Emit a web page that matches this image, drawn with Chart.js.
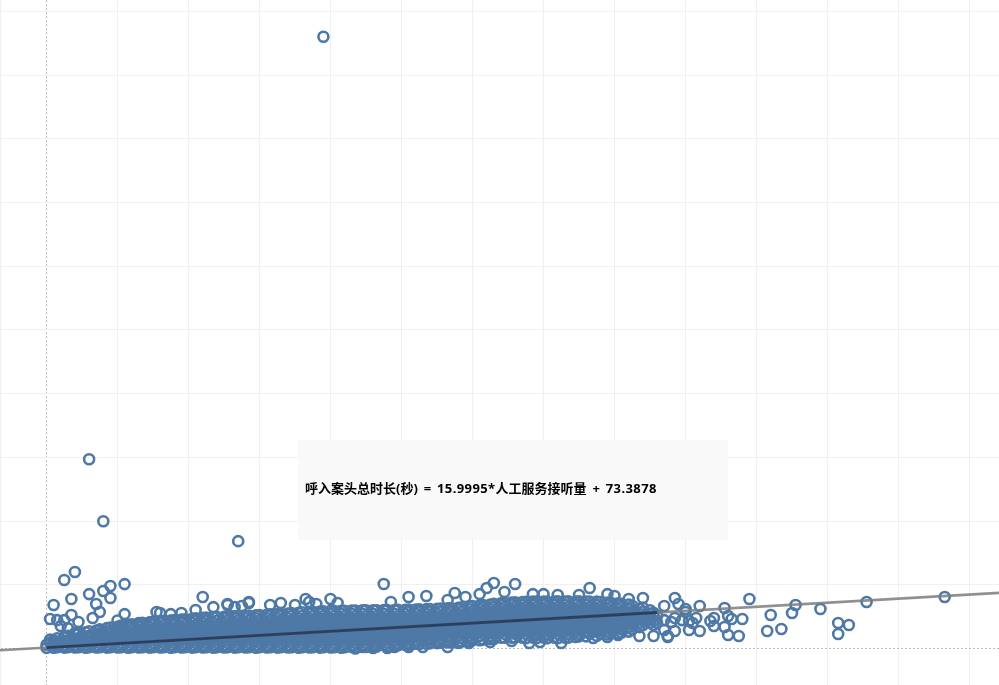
<!DOCTYPE html>
<html lang="zh">
<head>
  <meta charset="UTF-8">
  <title>呼入案头总时长</title>
  <script src="https://cdn.jsdelivr.net/npm/chart.js"></script>
  <style>
    body { margin: 0; background: #fff; }
    #wrap { position: relative; width: 999px; height: 685px; overflow: hidden; }
    #note {
      position: absolute; left: 298px; top: 440px; width: 430px; height: 100px;
      background: rgba(249, 249, 249, 0.93);
      font: bold 13px "Noto Sans", "Noto Sans CJK SC", sans-serif; word-spacing: 2.5px;
      line-height: 97px; padding-left: 7px; box-sizing: border-box; color: #000; white-space: pre;
    }
    #note span { letter-spacing: 0.4px; }
  </style>
</head>
<body>
  <div id="wrap">
    <canvas id="chart" width="999" height="685"></canvas>
    <div id="note">呼入案头总时长(秒) = <span>15.9995*</span>人工服务接听量 + <span>73.3878</span></div>
  </div>

  <script>
    const xTicks = [0, 20, 40, 60, 80, 100, 120, 140, 160, 180, 200, 220, 240, 260];
    const yTicks = [0, 5000, 10000, 15000, 20000, 25000, 30000, 35000, 40000, 45000, 50000];

    // regression shown in the note
    const trendSlope = 15.9995;
    const trendIntercept = 73.3878;
    const trendFullX = [-13.1, 268.3];
    const trendDataX = [0, 172];

    // loose points read one by one: [人工服务接听量, 呼入案头总时长(秒)]
    const outliersTop = [
      [78,48000],[12,14850],[16,9990],[54,8425],[5,5370],[8,6000],[2,3410],[7,3880],[12,4270],[16,4510],
      [18,4900],[22,5055],[18,3960],[14,3490],[15,2860],[7,2625],[1,2310],[3,2230],[5,2230],[4,1760],
      [6,1600],[9,2080],[13,2390],[22,2700],[20,2200]
    ];
    const outliersUpper = [
      [31,2870],[32,2790],[35,2700],[38,2790],[44,4040],[47,3250],[51,3410],[55,3330],[57,3570],[42,3020],
      [51,3490],[53,3250],[57,3645],[63,3410],[66,3570],[70,3410],[73,3880],[74,3645],[76,3490],[80,3880],
      [82,3570],[95,5060],[97,3645],[102,4040],[107,4115],[113,3800],[115,4350],[118,4040],[122,4270],[124,4745],
      [126,5135],[129,4430],[132,5060],[137,4270],[140,4270],[144,4195],[150,4195],[153,4745],[158,4270],[160,4115],
      [164,3880],[168,3960]
    ];
    const outliersLower = [
      [87,0],[92,40],[96,40],[98,120],[102,120],[106,120],[113,120],[116,430],[119,430],[125,510],
      [131,590],[136,430],[139,510],[145,430],[154,820],[158,900],[161,1060],[167,980],[171,980],[160,1770],
      [171,1840]
    ];
    const outliersRight = [
      [175,900],[174,1450],[174,3330],[177,3960],[178,3490],[180,3100],[180,2860],[184,3330],[191,3175],[198,3880],
      [204,2630],[211,3410],[210,2780],[218,3100],[231,3645],[253,4040],[223,2000],[226,1840],[223,1140],[203,1370],
      [207,1530],[196,2310],[195,980],[192,1060],[191,1690],[193,2310],[192,2550],[188,2390],[187,2160],[188,1770],
      [183,2390],[184,1370],[181,1450],[182,2000],[181,2160],[179,2230],[177,1370],[175,980],[177,2390],[176,2080],
      [174,2230]
    ];

    // dense band, estimated column by column: [x, [y, y, ...]]
    const cloudLeftTop = [
      [1,[450,700]],[2,[650]],[3,[800]],[5,[900]],[6,[1000]],[8,[1100,1200]],[9,[1150,1250]],[11,[1275]],[12,[1350]],
      [14,[1400]],[15,[1450,1500]],[17,[1600]],[18,[1650]],[20,[1700]],[21,[1800]],[23,[1850]],[24,[1900]],[26,[2000]],
      [27,[2020]],[29,[2050]],[30,[2100]],[32,[2150]],[33,[2160]],[35,[2180]]
    ];
    const cloudLeft = [
      [0,[50,300]],[2,[60,275,375]],[3,[100,450]],[5,[70,275,600]],[6,[100,450,650]],[8,[80,275,625,740]],[9,[100,450,820]],
      [11,[60,275,625,925]],[12,[100,450,800,1000]],[14,[80,275,625,975,1100]],[15,[100,450,800,1150,1200]],
      [17,[70,275,625,975,1300]],[18,[100,450,800,1150,1380]],[20,[80,275,625,975,1325,1475]],
      [21,[100,450,800,1150,1500,1560]],[23,[60,275,625,975,1325,1680]],[24,[100,450,800,1150,1500,1750]],
      [26,[80,275,625,975,1325,1675,1860]],[27,[100,450,800,1150,1500,1850,1920]],[29,[70,275,625,975,1325,1675,2000]],
      [30,[100,450,800,1150,1500,1850,2060]],[32,[80,275,625,975,1325,1675,2025,2120]],[33,[100,450,800,1150,1500,1850,2160]],
      [35,[60,275,625,975,1325,1675,2025,2200]],[36,[100,450,800,1150,1500,1850,2240]],[38,[80,275,625,975,1325,1675,2025,2270]],
      [39,[100,450,800,1150,1500,1850,2200,2300]],[41,[70,275,625,975,1325,1675,2025,2340]],[42,[100,450,800,1150,1500,1850,2200,2370]],
      [44,[80,275,625,975,1325,1675,2025,2400]],[45,[100,450,800,1150,1500,1850,2200,2420]],[47,[60,275,625,975,1325,1675,2025,2450]],
      [48,[100,450,800,1150,1500,1850,2200,2470]],[50,[80,275,625,975,1325,1675,2025,2375,2490]],[51,[100,450,800,1150,1500,1850,2200,2510]],
      [53,[70,275,625,975,1325,1675,2025,2375,2530]],[54,[100,450,800,1150,1500,1850,2200,2540]],[56,[80,275,625,975,1325,1675,2025,2375,2575]]
    ];
    const cloudMid = [
      [57,[100,450,800,1150,1500,1850,2200,2580]],[59,[60,275,625,975,1325,1675,2025,2375,2600]],[60,[100,450,800,1150,1500,1850,2200,2620]],
      [62,[80,275,625,975,1325,1675,2025,2375,2650]],[63,[100,450,800,1150,1500,1850,2200,2550,2680]],[65,[70,275,625,975,1325,1675,2025,2375,2700]],
      [66,[100,450,800,1150,1500,1850,2200,2550,2720]],[68,[80,275,625,975,1325,1675,2025,2375,2750]],[69,[100,450,800,1150,1500,1850,2200,2550,2780]],
      [71,[60,275,625,975,1325,1675,2025,2375,2800]],[72,[100,450,800,1150,1500,1850,2200,2550,2850]],[74,[80,275,625,975,1325,1675,2025,2375,2725,2870]],
      [75,[100,450,800,1150,1500,1850,2200,2550,2880]],[77,[70,275,625,975,1325,1675,2025,2375,2725,2900]],[78,[100,450,800,1150,1500,1850,2200,2550,2920]],
      [80,[80,275,625,975,1325,1675,2025,2375,2725,2950]],[81,[100,450,800,1150,1500,1850,2200,2550,2950]],[83,[60,275,625,975,1325,1675,2025,2375,2725,2960]],
      [84,[100,450,800,1150,1500,1850,2200,2550,2960]],[86,[120,275,625,975,1325,1675,2025,2375,2725,2980]],[87,[100,450,800,1150,1500,1850,2200,2550,2980]],
      [89,[120,275,625,975,1325,1675,2025,2375,2725,3000]],[90,[120,450,800,1150,1500,1850,2200,2550,3000]],[92,[150,275,625,975,1325,1675,2025,2375,2725,3000]],
      [93,[150,450,800,1150,1500,1850,2200,2550,3000]],[95,[275,625,975,1325,1675,2025,2375,2725,3010]],[96,[200,450,800,1150,1500,1850,2200,2550,3020]],
      [98,[275,625,975,1325,1675,2025,2375,2725,3020]],[99,[250,450,800,1150,1500,1850,2200,2550,3030]],[101,[300,625,975,1325,1675,2025,2375,2725,3040]],
      [102,[300,450,800,1150,1500,1850,2200,2550,2900,3050]],[104,[375,625,975,1325,1675,2025,2375,2725,3060]],[105,[350,800,1150,1500,1850,2200,2550,2900,3070]],
      [107,[375,625,975,1325,1675,2025,2375,2725,3090]],[108,[400,800,1150,1500,1850,2200,2550,2900,3100]],[110,[425,625,975,1325,1675,2025,2375,2725,3125]],
      [111,[450,800,1150,1500,1850,2200,2550,2900,3140]],[113,[475,625,975,1325,1675,2025,2375,2725,3075,3150]],[114,[500,800,1150,1500,1850,2200,2550,2900,3170]]
    ];
    const cloudRight = [
      [116,[525,975,1325,1675,2025,2375,2725,3075,3200]],[117,[550,800,1150,1500,1850,2200,2550,2900,3240]],[119,[600,975,1325,1675,2025,2375,2725,3075,3300]],
      [120,[650,800,1150,1500,1850,2200,2550,2900,3340]],[122,[650,975,1325,1675,2025,2375,2725,3075,3380]],[123,[700,1150,1500,1850,2200,2550,2900,3250,3400]],
      [125,[750,975,1325,1675,2025,2375,2725,3075,3450]],[126,[750,1150,1500,1850,2200,2550,2900,3250,3500]],[128,[850,1325,1675,2025,2375,2725,3075,3425,3550]],
      [129,[850,1150,1500,1850,2200,2550,2900,3250,3570]],[131,[850,1325,1675,2025,2375,2725,3075,3425,3600]],[132,[850,1150,1500,1850,2200,2550,2900,3250,3620]],
      [134,[850,1325,1675,2025,2375,2725,3075,3425,3650]],[135,[800,1150,1500,1850,2200,2550,2900,3250,3660]],[137,[850,1325,1675,2025,2375,2725,3075,3425,3675]],
      [138,[800,1150,1500,1850,2200,2550,2900,3250,3680]],[140,[850,1325,1675,2025,2375,2725,3075,3425,3675]],[141,[800,1150,1500,1850,2200,2550,2900,3250,3690]],
      [143,[850,1325,1675,2025,2375,2725,3075,3425,3675]],[144,[800,1150,1500,1850,2200,2550,2900,3250,3700]],[146,[850,1325,1675,2025,2375,2725,3075,3425,3675]],
      [147,[850,1150,1500,1850,2200,2550,2900,3250,3700]],[149,[900,1325,1675,2025,2375,2725,3075,3425,3675]],[150,[950,1150,1500,1850,2200,2550,2900,3250,3700]],
      [152,[950,1325,1675,2025,2375,2725,3075,3425,3675]],[153,[1150,1500,1850,2200,2550,2900,3250,3680]],[155,[1000,1325,1675,2025,2375,2725,3075,3425,3675]],
      [156,[1150,1500,1850,2200,2550,2900,3250,3650]],[158,[1100,1325,1675,2025,2375,2725,3075,3425,3600]],[159,[1200,1500,1850,2200,2550,2900,3250,3580]],
      [161,[1200,1675,2025,2375,2725,3075,3425,3550]],[162,[1250,1500,1850,2200,2550,2900,3250,3500]],[164,[1325,1675,2025,2375,2725,3075,3450]],
      [165,[1500,1850,2200,2550,2900,3350]],[167,[1675,2025,2375,2725,3125]],[168,[1850,2200,2550,2900,3200]],[170,[2025,2375,2725,3000]],
      [171,[2200,2550,2800]],[172,[2025,2575]]
    ];

    const toPoint = p => ({ x: p[0], y: p[1] });
    const cloudPoints = [...cloudLeftTop, ...cloudLeft, ...cloudMid, ...cloudRight]
      .flatMap(col => col[1].map(y => ({ x: col[0], y: y })));
    const loosePoints = [...outliersTop, ...outliersUpper, ...outliersLower, ...outliersRight].map(toPoint);
    const trendAt = x => ({ x: x, y: trendSlope * x + trendIntercept });

    const zeroOr = (ctx, zero, other) => (ctx.tick && ctx.tick.value === 0 ? zero : other);
    const axis = (min, max, values) => ({
      type: "linear",
      min: min,
      max: max,
      afterBuildTicks: scale => { scale.ticks = values.map(v => ({ value: v })); },
      ticks: { display: false },
      border: { display: true, color: "#f0f0f0", width: 1, dash: ctx => zeroOr(ctx, [2, 2], []) },
      grid: {
        color: ctx => zeroOr(ctx, "#bdbdbd", "#f0f0f0"),
        lineWidth: 1,
        drawTicks: false
      }
    });

    new Chart(document.getElementById("chart").getContext("2d"), {
      type: "scatter",
      data: {
        datasets: [
          {
            data: trendDataX.map(trendAt),
            showLine: true, pointRadius: 0, borderColor: "#2b4060", borderWidth: 2.8, order: 0
          },
          {
            data: trendFullX.map(trendAt),
            showLine: true, pointRadius: 0, borderColor: "rgba(125,125,125,0.85)", borderWidth: 2.6, order: 1
          },
          {
            data: [...cloudPoints, ...loosePoints],
            pointStyle: "circle", pointRadius: 5, pointBorderWidth: 2.6,
            pointBackgroundColor: "rgba(0,0,0,0)", pointBorderColor: "#4e79a7", order: 2
          }
        ]
      },
      options: {
        responsive: false,
        animation: false,
        layout: { padding: 0, autoPadding: false },
        plugins: { legend: { display: false }, title: { display: false }, tooltip: { enabled: false } },
        scales: {
          x: axis(-13.1, 268.3, xTicks),
          y: axis(-2864, 50887, yTicks)
        }
      }
    });
  </script>
</body>
</html>
